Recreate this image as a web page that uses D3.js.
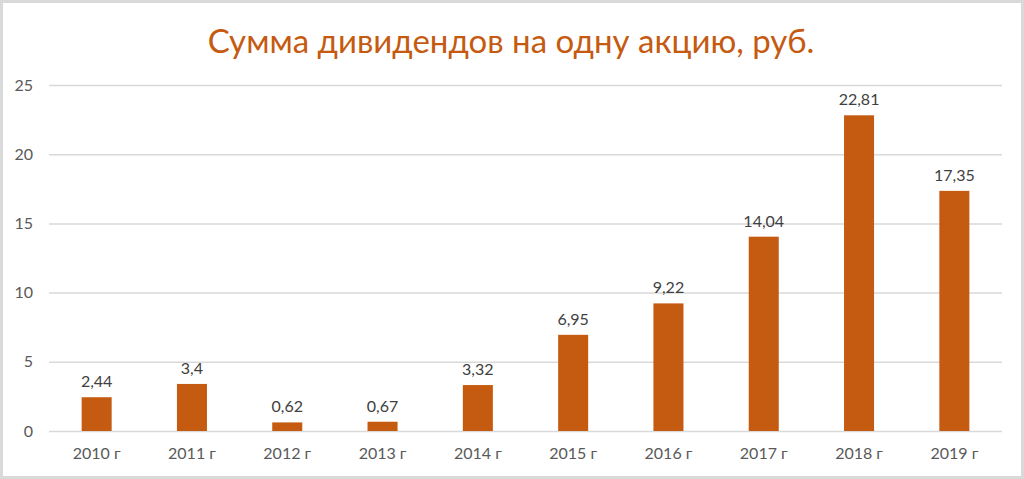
<!DOCTYPE html>
<html><head><meta charset="utf-8">
<script src="https://cdn.jsdelivr.net/npm/d3@7"></script>
<style>html,body{margin:0;padding:0;background:#fff;}svg{display:block;}</style>
</head><body>
<script>
const categories = ["2010 г","2011 г","2012 г","2013 г","2014 г","2015 г","2016 г","2017 г","2018 г","2019 г"];
const values = [2.44, 3.4, 0.62, 0.67, 3.32, 6.95, 9.22, 14.04, 22.81, 17.35];
const labels = ["2,44","3,4","0,62","0,67","3,32","6,95","9,22","14,04","22,81","17,35"];
const yTicks = [0,5,10,15,20,25];
const title = "Сумма дивидендов на одну акцию, руб.";

const W = 1024, H = 479;
const m = {left: 49, right: 22, top: 85, bottom: 48};
const font = "Lato, 'Open Sans', sans-serif";
const svg = d3.select("body").append("svg").attr("width", W).attr("height", H);
svg.append("rect").attr("x",1.5).attr("y",1.5).attr("width",W-3).attr("height",H-3)
  .attr("fill","#fff").attr("stroke","#d9d9d9").attr("stroke-width",3);

const x = d3.scaleBand().domain(categories).range([m.left, W - m.right]).paddingInner(0.685).paddingOuter(0.3425);
const y = d3.scaleLinear().domain([0,25]).range([H - m.bottom, m.top]);

svg.append("text").attr("x", 511).attr("y", 53).attr("text-anchor","middle")
  .attr("font-family", font).attr("font-size", 33).attr("fill","#C55A11").text(title);

const gy = svg.append("g").attr("transform",`translate(${m.left},0)`)
  .call(d3.axisLeft(y).tickValues(yTicks).tickSize(-(W - m.right - m.left)).tickPadding(16));
gy.select(".domain").remove();
gy.selectAll(".tick line").attr("stroke","#d9d9d9").attr("stroke-width",1.5);
gy.selectAll(".tick text").attr("font-family",font).attr("font-size",16).attr("fill","#595959");

const gx = svg.append("g").attr("transform",`translate(0,${H - m.bottom})`)
  .call(d3.axisBottom(x).tickSize(0).tickPadding(17));
gx.select(".domain").remove();
gx.selectAll(".tick text").attr("font-family",font).attr("font-size",16).attr("fill","#595959");

svg.selectAll("rect.bar").data(values).join("rect").attr("class","bar")
  .attr("x",(d,i)=>x(categories[i])).attr("width",x.bandwidth())
  .attr("y",d=>y(d)).attr("height",d=>y(0)-y(d)).attr("fill","#C55A11");

svg.selectAll("text.lbl").data(values).join("text").attr("class","lbl")
  .attr("x",(d,i)=>x(categories[i])+x.bandwidth()/2).attr("y",d=>y(d)-10)
  .attr("text-anchor","middle").attr("font-family",font).attr("font-size",16).attr("fill","#404040")
  .text((d,i)=>labels[i]);
</script>
</body></html>
